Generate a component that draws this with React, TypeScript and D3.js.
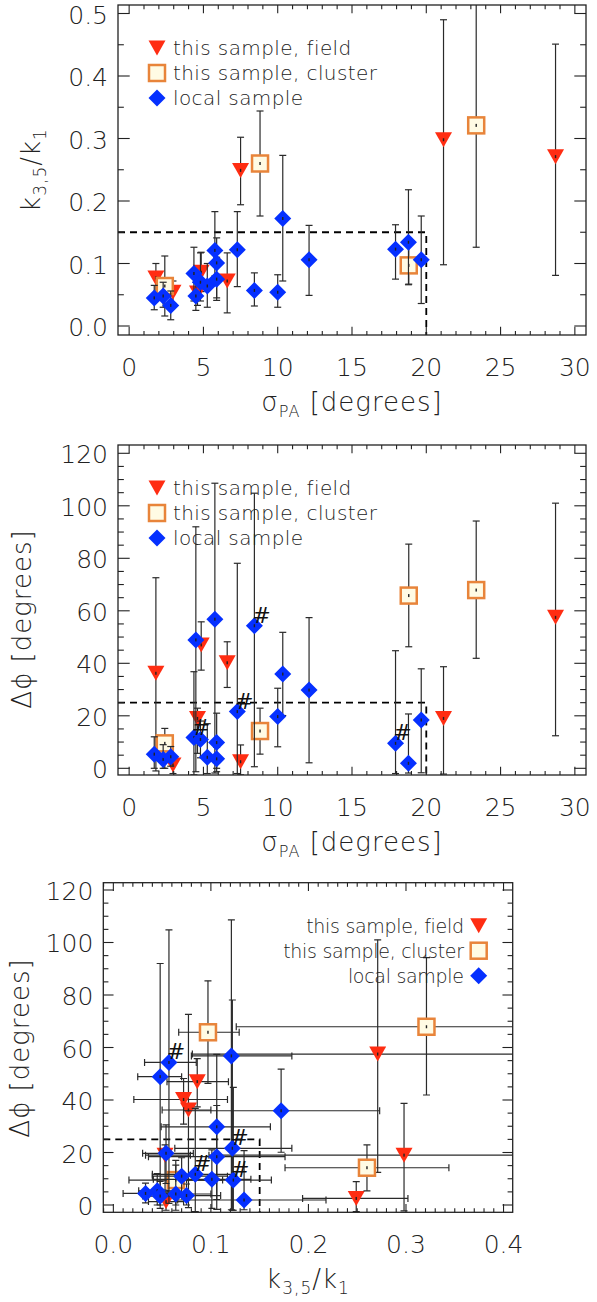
import React from "react";
import * as d3 from "d3";

type Obj = { sigma: number; k: number; kLo: number; kHi: number; dphi: number; dLo: number; dHi: number; hash?: boolean };

// this sample, field (red triangles)
const fieldSample: Obj[] = [
  { sigma: 1.8, k: 0.077, kLo: 0.05, kHi: 0.1, dphi: 36.2, dLo: -1, dHi: 72.6 },
  { sigma: 2.95, k: 0.054, kLo: 0.036, kHi: 0.072, dphi: 1.3, dLo: -2, dHi: 5 },
  { sigma: 4.85, k: 0.086, kLo: 0.055, kHi: 0.118, dphi: 47, dLo: 37.4, dHi: 55.8 },
  { sigma: 4.6, k: 0.053, kLo: 0.033, kHi: 0.079, dphi: 19, dLo: 5.7, dHi: 22.9 },
  { sigma: 6.6, k: 0.072, kLo: 0.021, kHi: 0.117, dphi: 40.2, dLo: 30.8, dHi: 48.2 },
  { sigma: 7.5, k: 0.249, kLo: 0.194, kHi: 0.302, dphi: 2.5, dLo: -2.5, dHi: 8.9 },
  { sigma: 21.16, k: 0.298, kLo: 0.098, kHi: 0.49, dphi: 19, dLo: -2.2, dHi: 38.7 },
  { sigma: 28.7, k: 0.271, kLo: 0.081, kHi: 0.451, dphi: 57.5, dLo: 12.4, dHi: 101 },
];

// this sample, cluster (orange squares)
const clusterSample: Obj[] = [
  { sigma: 8.81, k: 0.26, kLo: 0.176, kHi: 0.344, dphi: 14.2, dLo: 5.4, dHi: 22.9 },
  { sigma: 23.36, k: 0.321, kLo: 0.126, kHi: 0.56, dphi: 67.9, dLo: 41.9, dHi: 94.2 },
  { sigma: 18.82, k: 0.097, kLo: 0.067, kHi: 0.129, dphi: 65.8, dLo: 46.3, dHi: 85.4 },
  { sigma: 2.4, k: 0.064, kLo: 0.016, kHi: 0.112, dphi: 9.5, dLo: 0, dHi: 15.2 },
];

// local sample (blue diamonds)
const localSample: Obj[] = [
  { sigma: 1.69, k: 0.045, kLo: 0.026, kHi: 0.065, dphi: 5.4, dLo: 0, dHi: 12 },
  { sigma: 2.29, k: 0.048, kLo: 0.03, kHi: 0.07, dphi: 3.4, dLo: 0, dHi: 9 },
  { sigma: 2.8, k: 0.033, kLo: 0.01, kHi: 0.056, dphi: 4.4, dLo: 0.8, dHi: 8.3 },
  { sigma: 4.36, k: 0.084, kLo: 0.04, kHi: 0.126, dphi: 11.7, dLo: -2.5, dHi: 36.8, hash: true },
  { sigma: 4.49, k: 0.048, kLo: 0.025, kHi: 0.07, dphi: 48.9, dLo: -1.3, dHi: 92 },
  { sigma: 4.8, k: 0.07, kLo: 0.04, kHi: 0.117, dphi: 11, dLo: 4, dHi: 18 },
  { sigma: 5.26, k: 0.064, kLo: 0.03, kHi: 0.1, dphi: 4.2, dLo: -2, dHi: 17 },
  { sigma: 5.77, k: 0.121, kLo: 0.08, kHi: 0.183, dphi: 56.8, dLo: -1.8, dHi: 108.6 },
  { sigma: 5.89, k: 0.101, kLo: 0.041, kHi: 0.141, dphi: 9.8, dLo: -1.3, dHi: 21 },
  { sigma: 5.89, k: 0.075, kLo: 0.045, kHi: 0.11, dphi: 3.6, dLo: 0, dHi: 8 },
  { sigma: 7.28, k: 0.122, kLo: 0.063, kHi: 0.183, dphi: 21.6, dLo: -2, dHi: 78.1, hash: true },
  { sigma: 8.43, k: 0.057, kLo: 0.032, kHi: 0.085, dphi: 54.3, dLo: 0.6, dHi: 104.8, hash: true },
  { sigma: 10.0, k: 0.054, kLo: 0.03, kHi: 0.082, dphi: 19.7, dLo: 8.2, dHi: 30.5 },
  { sigma: 10.34, k: 0.172, kLo: 0.072, kHi: 0.273, dphi: 35.9, dLo: 20.1, dHi: 51.8 },
  { sigma: 12.11, k: 0.106, kLo: 0.049, kHi: 0.161, dphi: 29.8, dLo: 2.1, dHi: 57.4 },
  { sigma: 17.93, k: 0.123, kLo: 0.075, kHi: 0.162, dphi: 9.5, dLo: -2, dHi: 44.8, hash: true },
  { sigma: 18.8, k: 0.134, kLo: 0.066, kHi: 0.218, dphi: 1.9, dLo: -1.8, dHi: 20.7 },
  { sigma: 19.66, k: 0.106, kLo: 0.036, kHi: 0.176, dphi: 18.4, dLo: -1.7, dHi: 37.9 },
];

const sigmaTicks = [0, 5, 10, 15, 20, 25, 30];
const kTicksY = [0, 0.1, 0.2, 0.3, 0.4, 0.5];
const kTicksX = [0, 0.1, 0.2, 0.3, 0.4];
const dphiTicks = [0, 20, 40, 60, 80, 100, 120];
const legendLabels = ["this sample, field", "this sample, cluster", "local sample"];
const sigmaCut = 20;
const kCut = 0.15;
const dphiCut = 25;

const RED = "#ff2d12";
const BLUE = "#0530ff";
const ORANGE = "#e8843a";
const CREAM = "#fffbe4";
const BAR = "#2a2a2a";
const FONT = "'DejaVu Sans', sans-serif";
const FW = 200;

type Kind = "field" | "cluster" | "local";

function Marker({ kind, x, y }: { kind: Kind; x: number; y: number }) {
  if (kind === "field") {
    return <path d={`M${x - 8.5},${y - 7.5}L${x + 8.5},${y - 7.5}L${x},${y + 7.5}Z`} fill={RED} />;
  }
  if (kind === "cluster") {
    return <rect x={x - 8} y={y - 8} width={16} height={16} fill={CREAM} stroke={ORANGE} strokeWidth={2.5} />;
  }
  return <path d={`M${x},${y - 8.5}L${x + 8.5},${y}L${x},${y + 8.5}L${x - 8.5},${y}Z`} fill={BLUE} />;
}

type Box = { l: number; r: number; t: number; b: number };

type PanelProps = {
  id: string;
  box: Box;
  xDomain: [number, number];
  yDomain: [number, number];
  xTicks: number[];
  yTicks: number[];
  xMinorStep: number;
  yMinorStep: number;
  xFmt: (v: number) => string;
  yFmt: (v: number) => string;
  xGet: (o: Obj) => [number, number, number] | [number];
  yGet: (o: Obj) => [number, number, number];
  cut: [number, number];
  legendRight?: boolean;
  showHash: boolean;
  xTitle: React.ReactNode;
  yTitle: React.ReactNode;
  yTitleX: number;
  yTitleY: number;
};

function Panel(p: PanelProps) {
  const { box } = p;
  const x = d3.scaleLinear().domain(p.xDomain).range([box.l, box.r]);
  const y = d3.scaleLinear().domain(p.yDomain).range([box.b, box.t]);
  const W = box.r - box.l;
  const H = box.b - box.t;
  const xMaj = 0.025 * H;
  const yMaj = 0.025 * W;
  const xMinor = d3.range(Math.ceil(p.xDomain[0] / p.xMinorStep), Math.floor(p.xDomain[1] / p.xMinorStep) + 1).map((i) => i * p.xMinorStep);
  const yMinor = d3.range(Math.ceil(p.yDomain[0] / p.yMinorStep), Math.floor(p.yDomain[1] / p.yMinorStep) + 1).map((i) => i * p.yMinorStep);
  const groups: [Kind, Obj[]][] = [
    ["field", fieldSample],
    ["cluster", clusterSample],
    ["local", localSample],
  ];
  const cap = 3.5;
  const clip = `clip-${p.id}`;
  const tickStyle = { stroke: "#222", strokeWidth: 1.1 };
  return (
    <g>
      <defs>
        <clipPath id={clip}>
          <rect x={box.l} y={box.t} width={W} height={H} />
        </clipPath>
      </defs>
      <g clipPath={`url(#${clip})`}>
        <path
          d={`M${box.l},${y(p.cut[1])}H${x(p.cut[0])}V${box.b}`}
          fill="none"
          stroke="#000"
          strokeWidth={1.8}
          strokeDasharray="7,5"
        />
        {groups.map(([kind, arr]) => (
          <g key={kind}>
            {arr.map((o, i) => {
              const xs = p.xGet(o);
              const ys = p.yGet(o);
              const cx = x(xs[0]);
              const cy = y(ys[0]);
              return (
                <g key={i} stroke={BAR} strokeWidth={1.2} fill="none">
                  <line x1={cx} x2={cx} y1={y(ys[1])} y2={y(ys[2])} />
                  <line x1={cx - cap} x2={cx + cap} y1={y(ys[1])} y2={y(ys[1])} />
                  <line x1={cx - cap} x2={cx + cap} y1={y(ys[2])} y2={y(ys[2])} />
                  {xs.length === 3 && (
                    <>
                      <line x1={x(xs[1])} x2={x(xs[2])} y1={cy} y2={cy} />
                      <line x1={x(xs[1])} x2={x(xs[1])} y1={cy - cap} y2={cy + cap} />
                      <line x1={x(xs[2])} x2={x(xs[2])} y1={cy - cap} y2={cy + cap} />
                    </>
                  )}
                </g>
              );
            })}
            {arr.map((o, i) => {
              const cx = x(p.xGet(o)[0]);
              const cy = y(p.yGet(o)[0]);
              return (
                <g key={"m" + i}>
                  <Marker kind={kind} x={cx} y={cy} />
                  <rect x={cx - 0.7} y={cy - 1.5} width={1.4} height={3} fill="#222" />
                </g>
              );
            })}
          </g>
        ))}
        {p.showHash &&
          localSample
            .filter((o) => o.hash)
            .map((o, i) => (
              <text
                key={"h" + i}
                x={x(p.xGet(o)[0]) + 7}
                y={y(p.yGet(o)[0]) - 3}
                fontSize={22}
                fontStyle="italic"
                fontWeight={FW}
                fontFamily={FONT}
                textAnchor="middle"
                fill="#111"
              >
                #
              </text>
            ))}
      </g>
      {/* ticks */}
      <g {...tickStyle}>
        {xMinor.map((v) => {
          const major = p.xTicks.some((t) => Math.abs(t - v) < 1e-9);
          const len = major ? xMaj : xMaj / 2;
          return (
            <g key={"xt" + v}>
              <line x1={x(v)} x2={x(v)} y1={box.b} y2={box.b - len} />
              <line x1={x(v)} x2={x(v)} y1={box.t} y2={box.t + len} />
            </g>
          );
        })}
        {yMinor.map((v) => {
          const major = p.yTicks.some((t) => Math.abs(t - v) < 1e-9);
          const len = major ? yMaj : yMaj / 2;
          return (
            <g key={"yt" + v}>
              <line x1={box.l} x2={box.l + len} y1={y(v)} y2={y(v)} />
              <line x1={box.r} x2={box.r - len} y1={y(v)} y2={y(v)} />
            </g>
          );
        })}
      </g>
      <rect x={box.l} y={box.t} width={W} height={H} fill="none" stroke="#222" strokeWidth={1.3} />
      {/* tick labels */}
      <g fontFamily={FONT} fontWeight={FW} fontSize={25} fill="#222">
        {p.xTicks.map((v) => (
          <text key={"xl" + v} x={x(v)} y={box.b + 41} textAnchor="middle">
            {p.xFmt(v)}
          </text>
        ))}
        {p.yTicks.map((v) => (
          <text key={"yl" + v} x={box.l - 10} y={y(v) + 10} textAnchor="end">
            {p.yFmt(v)}
          </text>
        ))}
      </g>
      {/* titles */}
      <g fontFamily={FONT} fontWeight={FW} fontSize={26} fill="#222" letterSpacing={1}>
        <text x={(box.l + box.r) / 2} y={box.b + 76} textAnchor="middle">
          {p.xTitle}
        </text>
        <text transform={`translate(${p.yTitleX},${p.yTitleY}) rotate(-90)`} textAnchor="middle">
          {p.yTitle}
        </text>
      </g>
      {/* legend */}
      <g
        fontFamily={FONT}
        fontWeight={FW}
        fontSize={p.legendRight ? 19 : 20}
        fill="#222"
        letterSpacing={p.legendRight ? -0.3 : 0.4}
      >
        {legendLabels.map((lab, i) => {
          const kind: Kind = (["field", "cluster", "local"] as Kind[])[i];
          const ly = box.t + 43 + i * 25;
          if (p.legendRight) {
            const sx = box.r - 34;
            return (
              <g key={lab}>
                <Marker kind={kind} x={sx} y={ly} />
                <text x={sx - 15} y={ly + 7} textAnchor="end">
                  {lab}
                </text>
              </g>
            );
          }
          const sx = box.l + 39;
          return (
            <g key={lab}>
              <Marker kind={kind} x={sx} y={ly} />
              <text x={sx + 16} y={ly + 7}>
                {lab}
              </text>
            </g>
          );
        })}
      </g>
    </g>
  );
}

const kTitle = (
  <>
    k<tspan dy={6} fontSize={17}>3,5</tspan>
    <tspan dy={-6}>/k</tspan>
    <tspan dy={6} fontSize={17}>1</tspan>
  </>
);
const sigmaTitle = (
  <>
    σ<tspan dy={6} fontSize={16}>PA</tspan>
    <tspan dy={-6}>{"  [degrees]"}</tspan>
  </>
);
const dphiTitle = <>{"Δϕ  [degrees]"}</>;

export default function App() {
  return (
    <svg width={597} height={1302} style={{ display: "block", position: "absolute", left: 0, top: 0 }}>
      <Panel
        id="p1"
        box={{ l: 118, r: 586, t: 5, b: 335 }}
        xDomain={[-0.75, 30.75]}
        yDomain={[-0.0144, 0.5136]}
        xTicks={sigmaTicks}
        yTicks={kTicksY}
        xMinorStep={1}
        yMinorStep={0.05}
        xFmt={(v) => String(v)}
        yFmt={(v) => v.toFixed(1)}
        xGet={(o) => [o.sigma]}
        yGet={(o) => [o.k, o.kLo, o.kHi]}
        cut={[sigmaCut, kCut]}
        showHash={false}
        xTitle={sigmaTitle}
        yTitle={kTitle}
        yTitleX={40}
        yTitleY={170}
      />
      <Panel
        id="p2"
        box={{ l: 118, r: 586, t: 445, b: 775 }}
        xDomain={[-0.75, 30.75]}
        yDomain={[-2.55, 123.16]}
        xTicks={sigmaTicks}
        yTicks={dphiTicks}
        xMinorStep={1}
        yMinorStep={5}
        xFmt={(v) => String(v)}
        yFmt={(v) => String(v)}
        xGet={(o) => [o.sigma]}
        yGet={(o) => [o.dphi, o.dLo, o.dHi]}
        cut={[sigmaCut, dphiCut]}
        showHash={true}
        xTitle={sigmaTitle}
        yTitle={dphiTitle}
        yTitleX={31}
        yTitleY={619}
      />
      <Panel
        id="p3"
        box={{ l: 103.3, r: 512.7, t: 882.7, b: 1212.3 }}
        xDomain={[-0.0103, 0.4094]}
        yDomain={[-2.78, 122.78]}
        xTicks={kTicksX}
        yTicks={dphiTicks}
        xMinorStep={0.01}
        yMinorStep={5}
        xFmt={(v) => v.toFixed(1)}
        yFmt={(v) => String(v)}
        xGet={(o) => [o.k, o.kLo, o.kHi]}
        yGet={(o) => [o.dphi, o.dLo, o.dHi]}
        cut={[kCut, dphiCut]}
        legendRight={true}
        showHash={true}
        xTitle={kTitle}
        yTitle={dphiTitle}
        yTitleX={29}
        yTitleY={1048}
      />
    </svg>
  );
}
